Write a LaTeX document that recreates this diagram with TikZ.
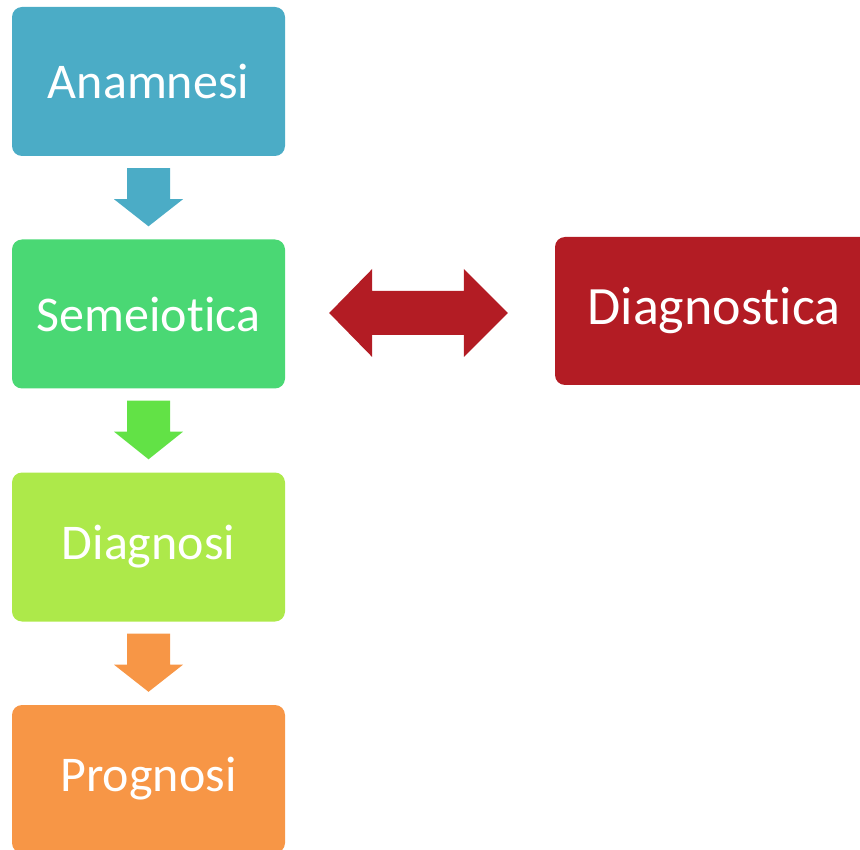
\documentclass[tikz,border=0pt]{standalone}
\usepackage{fontspec}
\setmainfont[Ligatures={NoCommon,NoRare,NoContextual},RawFeature={-liga;-clig;-dlig;-calt}]{Carlito}
\usetikzlibrary{calc}
\definecolor{cAnam}{HTML}{4BACC6}
\definecolor{cSem}{HTML}{4AD874}
\definecolor{cSemArr}{HTML}{62E246}
\definecolor{cDiag}{HTML}{ADE94A}
\definecolor{cProg}{HTML}{F79646}
\definecolor{cRed}{HTML}{B31C24}
\tikzset{
  box/.style={rectangle, rounded corners=10pt, minimum width=273pt, minimum height=149pt,
    inner sep=0pt, text=white, font=\fontsize{50}{60}\selectfont},
}
\newcommand{\blockdown}[3]{%
  \fill[#3] ($(#1.south)+(-21.5,12)$) -- ++(43,0) -- ++(0,31) -- ++(13,0)
    -- ($(#2.north)+(0,-13)$) -- ($(#1.south)+(-34.5,43)$) -- ++(13,0) -- cycle;}
\begin{document}
\begin{tikzpicture}[x=1pt,y=-1pt]
\useasboundingbox (0,0) rectangle (860,850);
\clip (0,0) rectangle (860,850);
\node[box, fill=cAnam] (anam) at (148.5,81.5) {Anamnesi};
\node[box, fill=cSem] (sem) at (148.5,314) {Semeiotica};
\node[box, fill=cDiag] (diag) at (148.5,547) {Diagnosi};
\node[box, fill=cProg, minimum height=148pt] (prog) at (148.5,779) {Prognosi};
\node[box, fill=cRed, minimum width=318pt, minimum height=148pt, font=\fontsize{54}{64}\selectfont] (dgn) at (714,311) {\raisebox{-3pt}{Diagnostica}};
\blockdown{anam}{sem}{cAnam}
\blockdown{sem}{diag}{cSemArr}
\blockdown{diag}{prog}{cProg}
% double arrow
\coordinate (dl) at ($(sem.east)+(44,-1)$);
\coordinate (dr) at ($(dgn.west)+(-47,2)$);
\fill[cRed] (dl) -- ($(dl)+(43,-44)$) -- ($(dl)+(43,-22)$) -- ($(dr)+(-44,-22)$) -- ($(dr)+(-44,-44)$)
  -- (dr) -- ($(dr)+(-44,44)$) -- ($(dr)+(-44,22)$) -- ($(dl)+(43,22)$) -- ($(dl)+(43,44)$) -- cycle;
\end{tikzpicture}
\end{document}
